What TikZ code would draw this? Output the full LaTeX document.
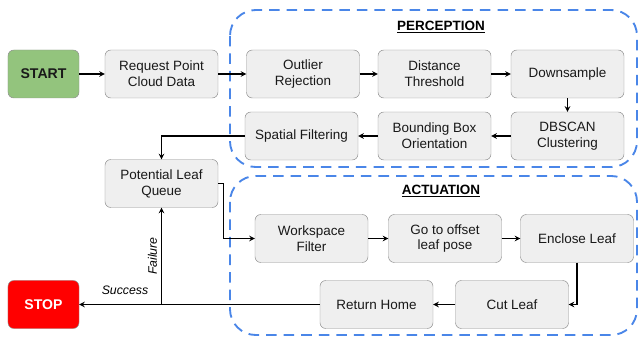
\documentclass[tikz,border=0pt]{standalone}
\usepackage{fontspec}
\setmainfont{Liberation Sans}
\usetikzlibrary{arrows.meta}
\definecolor{boxgray}{HTML}{EFEFEF}
\definecolor{edgegray}{HTML}{8F8F8F}
\definecolor{startgreen}{HTML}{93C47D}
\definecolor{stopred}{HTML}{FF0000}
\definecolor{groupblue}{HTML}{4A86E8}
\tikzset{
  stepbox/.style={draw=edgegray, fill=boxgray, rounded corners=5pt, align=center,
    minimum width=3.39cm, minimum height=1.44cm, inner sep=2pt,
    font=\fontsize{11.5}{13.6}\selectfont, text=black!90},
  endbox/.style={stepbox, minimum width=2.13cm, font=\fontsize{12}{14}\selectfont\bfseries},
  groupbox/.style={draw=groupblue, line width=1.6pt, dash pattern=on 9pt off 6pt, rounded corners=22pt},
  grouptitle/.style={font=\fontsize{11.5}{13.6}\selectfont\bfseries},
  arr/.style={-stealth, line width=1.1pt},
}
\begin{document}
\begin{tikzpicture}[x=0.03cm,y=-0.03cm]
  \useasboundingbox (0,0) rectangle (641,341);
  % groups
  \draw[groupbox] (230,10) rectangle (637,167);
  \draw[groupbox] (230,176) rectangle (637,335);
  \node[grouptitle] (pertitle) at (441,27) {\underline{PERCEPTION}};
  \node[grouptitle] (acttitle) at (441,191) {\underline{ACTUATION}};
  % nodes
  \node[endbox, fill=startgreen] (start) at (43.5,74) {START};
  \node[stepbox] (req) at (161.5,74) {Request Point\\Cloud Data};
  \node[stepbox] (outl) at (303,74) {Outlier\\Rejection};
  \node[stepbox] (dist) at (434.5,74) {Distance\\Threshold};
  \node[stepbox] (down) at (567.5,74) {Downsample};
  \node[stepbox] (dbscan) at (567.5,136) {DBSCAN\\Clustering};
  \node[stepbox] (bbox) at (434.5,136) {Bounding Box\\Orientation};
  \node[stepbox] (spat) at (301.5,136) {Spatial Filtering};
  \node[stepbox] (queue) at (161.5,183.5) {Potential Leaf\\Queue};
  \node[stepbox] (ws) at (311.5,238.5) {Workspace\\Filter};
  \node[stepbox] (goto) at (445,238.5) {Go to offset\\leaf pose};
  \node[stepbox] (encl) at (577,238.5) {Enclose Leaf};
  \node[stepbox] (cut) at (512,304.5) {Cut Leaf};
  \node[stepbox] (home) at (376.5,304.5) {Return Home};
  \node[endbox, fill=stopred, text=white] (stop) at (43.5,304.5) {STOP};
  \coordinate (split) at (queue.south |- stop);
  % connectors
  \draw[arr] (start) -- (req);
  \draw[arr] (req) -- (outl);
  \draw[arr] (outl) -- (dist);
  \draw[arr] (dist) -- (down);
  \draw[arr] (down) -- (dbscan);
  \draw[arr] (dbscan) -- (bbox);
  \draw[arr] (bbox) -- (spat);
  \draw[arr] (spat) -| (queue);
  \draw[arr] (queue.east) -- ++(5,0) |- (ws);
  \draw[arr] (ws) -- (goto);
  \draw[arr] (goto) -- (encl);
  \draw[arr] (encl) |- (cut);
  \draw[arr] (cut) -- (home);
  \draw[arr] (home) -- (stop);
  \draw[arr] (split) -- (queue) node[midway, above, sloped, font=\fontsize{10.5}{12}\selectfont\itshape] {Failure};
  \node[font=\fontsize{10.5}{12}\selectfont\itshape] (success) at (125,290) {Success};
\end{tikzpicture}
\end{document}
